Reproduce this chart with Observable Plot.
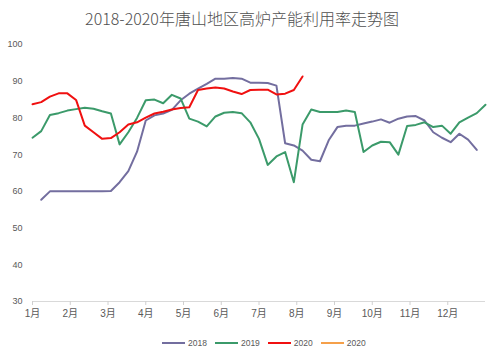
<!DOCTYPE html>
<html>
<head>
<meta charset="utf-8">
<script src="https://cdn.jsdelivr.net/npm/d3@7"></script>
<script src="https://cdn.jsdelivr.net/npm/@observablehq/plot@0.6"></script>
<style>
  html, body { margin: 0; padding: 0; background: #fff; }
  body { position: relative; width: 500px; height: 357px; overflow: hidden; font-family: "Liberation Sans", "Noto Sans CJK SC", sans-serif; }
  #title { position: absolute; top: 6px; left: 0; width: 484px; text-align: center; font-family: "Noto Sans CJK SC", sans-serif; font-weight: 300; font-size: 16px; line-height: 24px; color: #505050; }
  #chart { position: absolute; top: 30px; left: 0; }
  #legend { position: absolute; top: 336px; left: 162px; display: flex; align-items: center; height: 14px; font-size: 8.5px; color: #595959; }
  .item { display: flex; align-items: center; margin-right: 8px; }
  .sw { width: 23px; margin-right: 3px; }
</style>
</head>
<body>
<div id="title">2018-2020年唐山地区高炉产能利用率走势图</div>
<div id="chart"></div>
<div id="legend"></div>
<script>
// Month tick labels (12 months over 52 weeks)
const months = ["1月","2月","3月","4月","5月","6月","7月","8月","9月","10月","11月","12月"];
const yTicks = [30, 40, 50, 60, 70, 80, 90, 100];

// Series names and colours
const seriesNames = ["2018", "2019", "2020"];
const seriesColors = ["#736e9f", "#3b9a6a", "#f01010"];
const legendNames = ["2018", "2019", "2020", "2020"];
const legendColors = ["#736e9f", "#3b9a6a", "#f01010", "#f5a04a"];
const legendWidths = [2.5, 2.5, 2.5, 1.5];

// Weekly values (week index start offsets)
const start2018 = 1;
const values2018 = [57.7, 60.0, 60.0, 60.0, 60.0, 60.0, 60.0, 60.0, 60.1, 62.5, 65.5, 70.8,
  79.3, 80.7, 81.2, 82.2, 84.8, 86.6, 88.0, 89.3, 90.7, 90.7, 90.9, 90.7, 89.6, 89.6,
  89.5, 88.8, 73.1, 72.5, 71.1, 68.6, 68.2, 73.9, 77.5, 77.9, 77.9, 78.5, 79.0,
  79.6, 78.7, 79.8, 80.4, 80.5, 79.3, 76.1, 74.6, 73.4, 75.7, 74.1, 71.3];

const start2019 = 0;
const values2019 = [74.6, 76.4, 80.8, 81.3, 82.0, 82.4, 82.8, 82.5, 81.8, 81.2, 72.8, 76.1,
  80.0, 84.8, 85.0, 84.0, 86.3, 85.3, 79.8, 79.0, 77.7, 80.4, 81.4, 81.6, 81.3, 78.8,
  74.3, 67.2, 69.5, 70.7, 62.5, 78.2, 82.3, 81.6, 81.6, 81.6, 82.0, 81.6, 70.7, 72.5,
  73.5, 73.4, 70.0, 77.8, 78.1, 78.8, 77.5, 77.9, 75.7, 78.8, 80.1, 81.3, 83.6];

const start2020 = 0;
const values2020 = [83.7, 84.3, 85.8, 86.7, 86.7, 84.9, 77.9, 76.1, 74.3, 74.5, 76.1, 78.2,
  78.8, 80.1, 81.2, 81.7, 82.3, 82.7, 82.9, 87.6, 88.0, 88.3, 88.0, 87.2, 86.5, 87.6,
  87.7, 87.7, 86.4, 86.6, 87.6, 91.3];

const toRows = (name, start, vals) => vals.map((v, i) => ({series: name, week: start + i, value: v}));
const rows = [
  ...toRows("2018", start2018, values2018),
  ...toRows("2019", start2019, values2019),
  ...toRows("2020", start2020, values2020)
];

const monthPos = months.map((m, i) => i * 52 / 12);
const monthLabel = d => months[Math.round(d * 12 / 52)];

const chart = Plot.plot({
  width: 500,
  height: 300,
  marginTop: 14,
  marginBottom: 29,
  marginLeft: 32,
  marginRight: 15,
  style: {fontFamily: "'Liberation Sans','Noto Sans CJK SC',sans-serif", fontSize: "9px", background: "#fff"},
  x: {domain: [0, 52], axis: null},
  y: {domain: [30, 100], axis: null},
  color: {domain: seriesNames, range: seriesColors},
  marks: [
    Plot.axisY({ticks: yTicks, tickSize: 0, tickPadding: 10, fill: "#595959", fontSize: 9, label: null}),
    Plot.ruleY([30], {stroke: "#d9d9d9", strokeWidth: 1}),
    Plot.axisX({ticks: monthPos, tickSize: 4, stroke: "#d0d0d0", text: null, label: null}),
    Plot.axisX({ticks: monthPos, tickSize: 0, tickPadding: 8, tickFormat: monthLabel, fill: "#595959", fontSize: 10, label: null}),
    Plot.lineY(rows, {x: "week", y: "value", z: "series", stroke: "series", strokeWidth: 2, strokeLinejoin: "round", curve: "linear"})
  ]
});
document.getElementById("chart").appendChild(chart);

const legend = document.getElementById("legend");
legendNames.forEach((n, i) => {
  const it = document.createElement("div");
  it.className = "item";
  const sw = document.createElement("div");
  sw.className = "sw";
  sw.style.height = legendWidths[i] + "px";
  sw.style.background = legendColors[i];
  const t = document.createElement("span");
  t.textContent = n;
  it.appendChild(sw);
  it.appendChild(t);
  legend.appendChild(it);
});
</script>
</body>
</html>
